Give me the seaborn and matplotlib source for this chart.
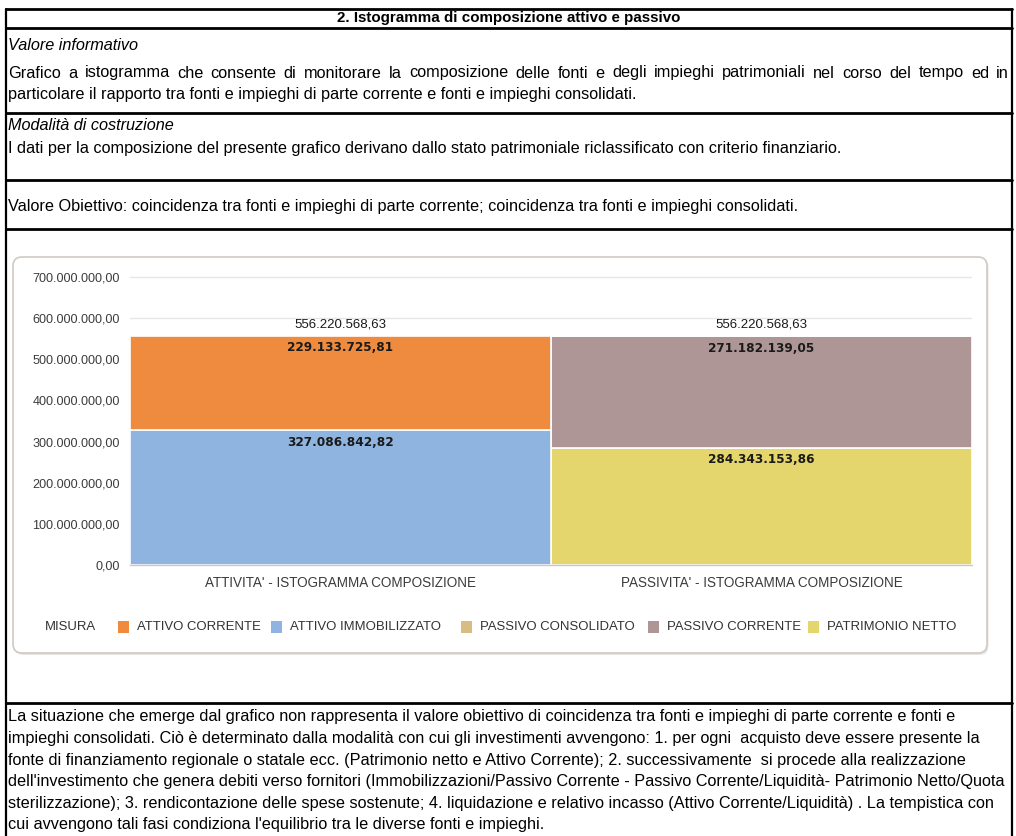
import matplotlib
matplotlib.use("Agg")
import matplotlib.pyplot as plt
import matplotlib.transforms as mtransforms
from matplotlib.patches import FancyBboxPatch, Rectangle
from matplotlib.lines import Line2D
from matplotlib import font_manager
import seaborn as sns
import pandas as pd

# ---------------- data ----------------
categories = ["ATTIVITA' - ISTOGRAMMA COMPOSIZIONE", "PASSIVITA' - ISTOGRAMMA COMPOSIZIONE"]
measures = ["ATTIVO CORRENTE", "ATTIVO IMMOBILIZZATO", "PASSIVO CONSOLIDATO",
            "PASSIVO CORRENTE", "PATRIMONIO NETTO"]
attivita_values = [229133725.81, 327086842.82, 0.0, 0.0, 0.0]
passivita_values = [0.0, 0.0, 695275.72, 271182139.05, 284343153.86]
measure_colors = ["#EF8B3E", "#8FB4DF", "#D8BC82", "#AE9697", "#E4D56C"]
y_ticks = [0, 100e6, 200e6, 300e6, 400e6, 500e6, 600e6, 700e6]
legend_title = "MISURA"
min_label_value = 20e6  # segments thinner than this carry no label

title_text = "2. Istogramma di composizione attivo e passivo"
sec1_head = "Valore informativo"
sec1_lines = ["Grafico a istogramma che consente di monitorare la composizione delle fonti e degli impieghi patrimoniali nel corso del tempo ed in",
              "particolare il rapporto tra fonti e impieghi di parte corrente e fonti e impieghi consolidati."]
sec2_head = "Modalità di costruzione"
sec2_line = "I dati per la composizione del presente grafico derivano dallo stato patrimoniale riclassificato con criterio finanziario."
sec3_line = "Valore Obiettivo: coincidenza tra fonti e impieghi di parte corrente; coincidenza tra fonti e impieghi consolidati."
bottom_lines = [
    "La situazione che emerge dal grafico non rappresenta il valore obiettivo di coincidenza tra fonti e impieghi di parte corrente e fonti e",
    "impieghi consolidati. Ciò è determinato dalla modalità con cui gli investimenti avvengono: 1. per ogni  acquisto deve essere presente la",
    "fonte di finanziamento regionale o statale ecc. (Patrimonio netto e Attivo Corrente); 2. successivamente  si procede alla realizzazione",
    "dell'investimento che genera debiti verso fornitori (Immobilizzazioni/Passivo Corrente - Passivo Corrente/Liquidità- Patrimonio Netto/Quota",
    "sterilizzazione); 3. rendicontazione delle spese sostenute; 4. liquidazione e relativo incasso (Attivo Corrente/Liquidità) . La tempistica con",
    "cui avvengono tali fasi condiziona l'equilibrio tra le diverse fonti e impieghi.",
]

def it_fmt(v):
    s = f"{v:,.2f}"
    return s.replace(",", "X").replace(".", ",").replace("X", ".")

# ---------------- figure ----------------
sns.set_theme(style="white")
names = {f.name for f in font_manager.fontManager.ttflist}
SANS = "Liberation Sans" if "Liberation Sans" in names else "DejaVu Sans"
NARROW = "Liberation Sans Narrow" if "Liberation Sans Narrow" in names else SANS
plt.rcParams["font.family"] = [SANS, "DejaVu Sans"]

W, H = 1016, 836
fig = plt.figure(figsize=(W / 100, H / 100), dpi=100)
fig.patch.set_facecolor("white")
R = fig.canvas.get_renderer()
pix = mtransforms.Affine2D().scale(1 / W, 1 / H) + fig.transFigure

def Y(y):
    return H - y

def fit_size(s, target, **kw):
    t = fig.text(0, 0, s, fontsize=10, **kw)
    w = t.get_window_extent(renderer=R).width
    t.remove()
    return 10 * target / w

def put(x, y, s, size, ha="left", **kw):
    return fig.text(x, Y(y), s, fontsize=size, ha=ha, va="center", transform=pix, **kw)

# ---------------- table frame ----------------
for yy in [9, 28, 113, 180, 229, 703]:
    fig.add_artist(Line2D([6, 1012], [Y(yy), Y(yy)], transform=pix, color="black", lw=2.0, zorder=5))
for xx in [6, 1012]:
    fig.add_artist(Line2D([xx, xx], [Y(9), Y(840)], transform=pix, color="black", lw=1.6, zorder=5))

# ---------------- document text ----------------
body_fs = fit_size(bottom_lines[3], 1002)
title_fs = fit_size(title_text, 343, fontweight="bold")
put(509, 18, title_text, title_fs, ha="center", fontweight="bold", color="black")
put(8, 46, sec1_head, body_fs, style="italic", color="black")

# justified first line
words = sec1_lines[0].split()
ws = []
for w_ in words:
    t = fig.text(0, 0, w_, fontsize=body_fs)
    ws.append(t.get_window_extent(renderer=R).width)
    t.remove()
gap = (1009 - 8 - sum(ws)) / (len(words) - 1)
xc = 8
for w_, wd in zip(words, ws):
    put(xc, 73, w_, body_fs, color="black")
    xc += wd + gap
put(8, 95, sec1_lines[1], body_fs, color="black")
put(8, 125, sec2_head, body_fs, style="italic", color="black")
put(8, 148, sec2_line, body_fs, color="black")
put(8, 207, sec3_line, body_fs, color="black")
for i, line in enumerate(bottom_lines):
    put(8, 717 + i * 21.6, line, body_fs, color="black")

# ---------------- chart card ----------------
fig.add_artist(FancyBboxPatch((14.5, Y(655)), 974, 397, boxstyle="round,pad=0,rounding_size=9",
                              transform=pix, fc="#E9E7E4", ec="none", zorder=-3))
fig.add_artist(FancyBboxPatch((13, Y(653)), 974, 396, boxstyle="round,pad=0,rounding_size=9",
                              transform=pix, fc="white", ec="#CFCAC4", lw=1.2, zorder=-2))

# ---------------- chart ----------------
ymax = 702e6
px_per_unit = (565 - 277) / 700e6
ax_top = 565 - ymax * px_per_unit
ax = fig.add_axes([130 / W, 1 - 565 / H, (972 - 130) / W, (565 - ax_top) / H])
ax.patch.set_alpha(0)

rows = []
for cat, vals in zip(categories, [attivita_values, passivita_values]):
    for m, v in zip(measures, vals):
        rows.append({"categoria": cat, "misura": m, "valore": v})
df = pd.DataFrame(rows)
palette = dict(zip(measures, measure_colors))

sns.histplot(data=df, x="categoria", hue="misura", weights="valore", hue_order=measures,
             multiple="stack", discrete=True, shrink=1, palette=palette, alpha=1,
             edgecolor="white", linewidth=1.2, legend=False, ax=ax)

ax.set_xlim(-0.5, 1.5)
ax.set_ylim(0, ymax)
ax.set_xlabel("")
ax.set_ylabel("")
ax.set_yticks(y_ticks)
tick_fs = fit_size(it_fmt(700e6), 88)
ax.set_yticklabels([it_fmt(v) for v in y_ticks], fontsize=tick_fs, color="#3C3C3C")
cat_fs = fit_size(categories[0], 272, family=[NARROW, "DejaVu Sans"])
ax.set_xticks(range(len(categories)))
ax.set_xticklabels(categories, fontsize=cat_fs, color="#3C3C3C", family=[NARROW, "DejaVu Sans"])
ax.tick_params(axis="y", length=0, pad=7.5)
ax.tick_params(axis="x", length=0, pad=8)
ax.yaxis.grid(True, color="#E6E6E6", lw=1.0)
ax.set_axisbelow(True)
for s in ["top", "right", "left"]:
    ax.spines[s].set_visible(False)
ax.spines["bottom"].set_color("#C9C9C9")
ax.spines["bottom"].set_linewidth(1.0)

# value labels
seg_fs = fit_size(it_fmt(229133725.81), 107, family="DejaVu Sans", fontweight="bold")
tot_fs = fit_size(it_fmt(556220568.63), 92)
for i, vals in enumerate([attivita_values, passivita_values]):
    bottom = 0.0
    for m, v in zip(measures[::-1], vals[::-1]):
        if v > min_label_value:
            ax.annotate(it_fmt(v), (i, bottom + v), xytext=(0, -8.5), textcoords="offset points",
                        ha="center", va="center", fontsize=seg_fs, fontweight="bold",
                        family="DejaVu Sans", color="#1A1A1A")
        bottom += v
    ax.annotate(it_fmt(sum(vals)), (i, sum(vals)), xytext=(0, 8.5), textcoords="offset points",
                ha="center", va="center", fontsize=tot_fs, color="#1A1A1A")

# legend (manual, inline title)
leg_y = 627
leg_fs = fit_size("ATTIVO CORRENTE", 124, family=[NARROW, "DejaVu Sans"])
put(45, leg_y, legend_title, leg_fs, color="#333333", family=[NARROW, "DejaVu Sans"])
patch_x = [118, 271, 461, 648, 808]
for m, px_ in zip(measures, patch_x):
    fig.add_artist(Rectangle((px_, Y(leg_y) - 6), 11, 12, transform=pix, fc=palette[m], ec="none"))
    put(px_ + 19, leg_y, m, leg_fs, color="#333333", family=[NARROW, "DejaVu Sans"])

fig.savefig("out.png", dpi=100, facecolor="white")
